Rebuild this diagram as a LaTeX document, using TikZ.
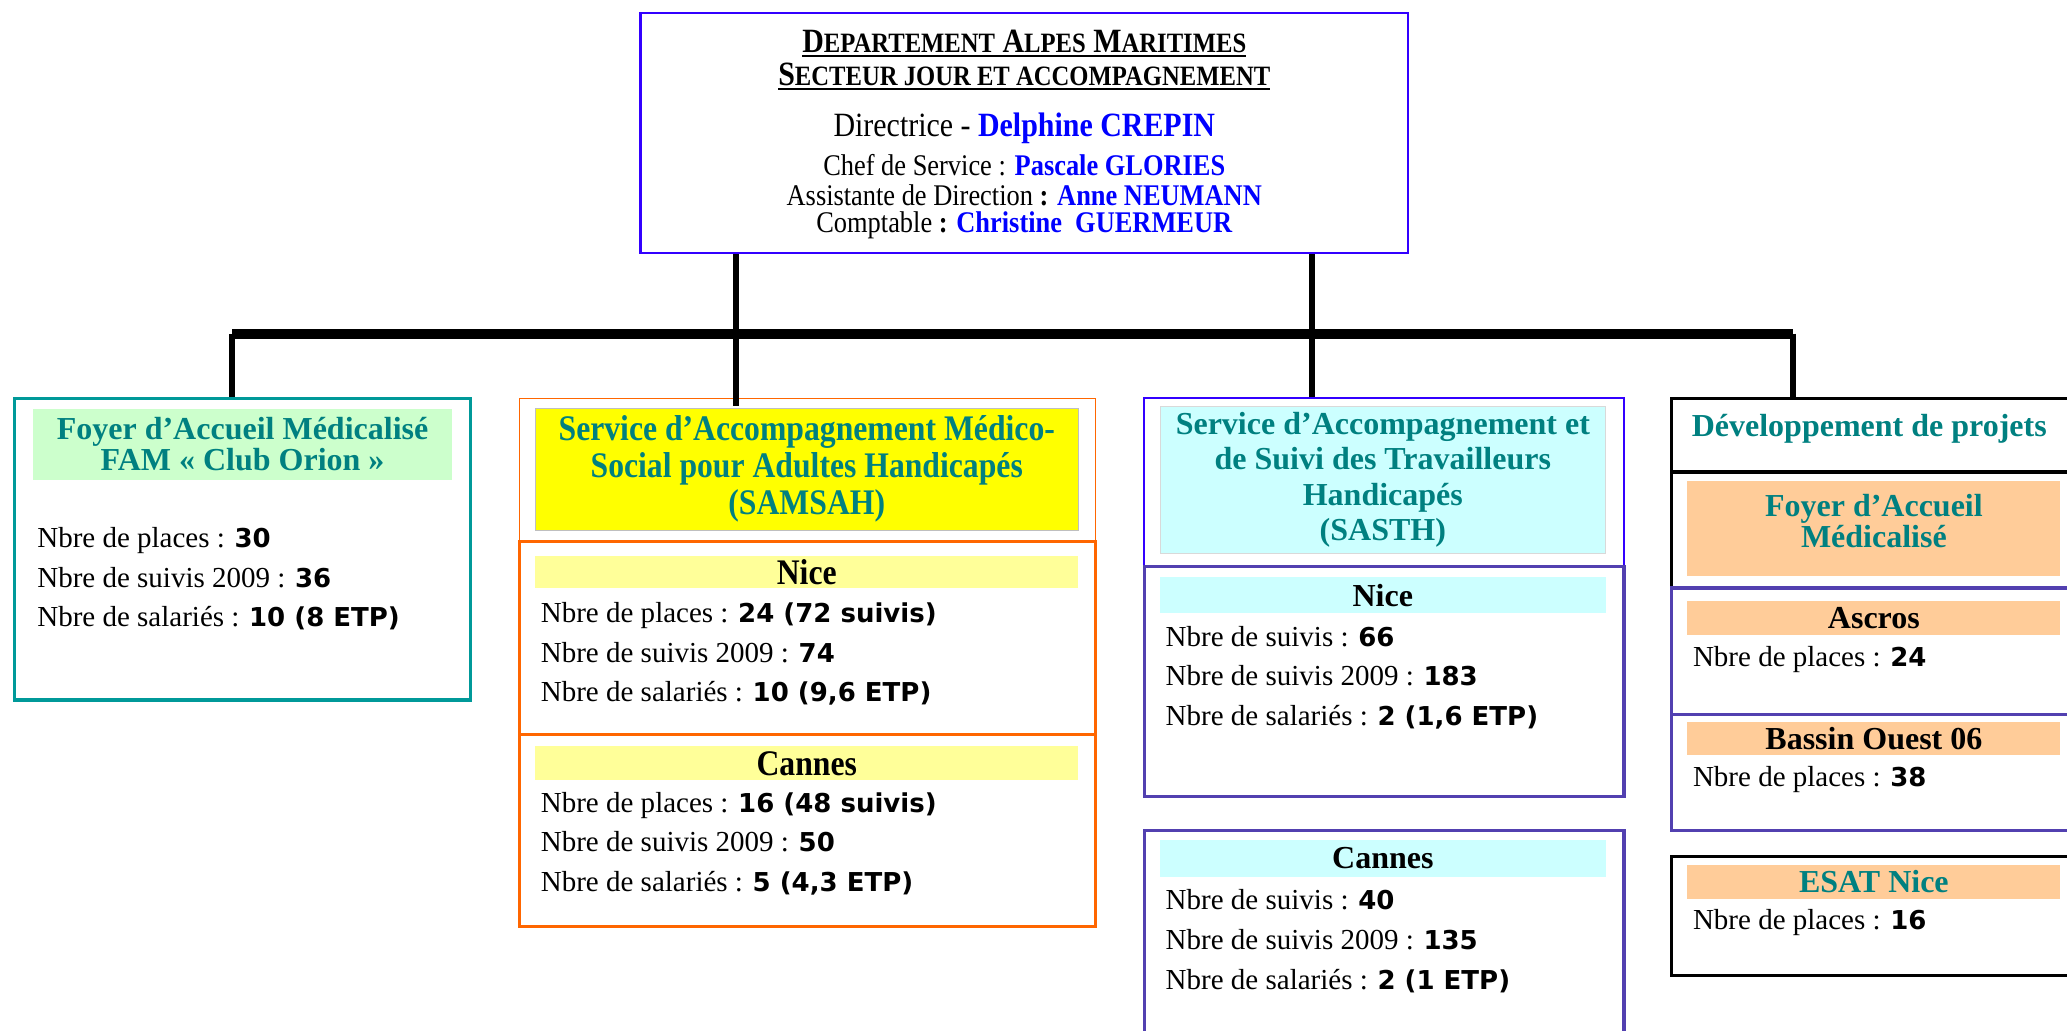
\documentclass[tikz,border=0pt]{standalone}
\usepackage{fontspec}
\setmainfont{Liberation Serif}
\newfontfamily\condfont[FakeStretch=0.88]{Liberation Serif}
\newfontfamily\valfont{DejaVu Sans}
\usetikzlibrary{positioning}

\newlength\pxu
\setlength\pxu{0.659pt}

\definecolor{dirblue}{RGB}{51,0,255}
\definecolor{namblue}{RGB}{0,0,255}
\definecolor{tealtxt}{RGB}{0,128,128}
\definecolor{tealline}{RGB}{0,153,153}
\definecolor{orgline}{RGB}{255,102,0}
\definecolor{purline}{RGB}{82,64,176}
\definecolor{greenfill}{RGB}{204,255,204}
\definecolor{yelfill}{RGB}{255,255,0}
\definecolor{paleyel}{RGB}{255,255,153}
\definecolor{cyanfill}{RGB}{204,255,255}
\definecolor{peach}{RGB}{255,204,153}

\newcommand\val[1]{{\valfont\bfseries\fontsize{13}{13}\selectfont #1}}
\newcommand\smc[2]{#1{\fontsize{14}{14}\selectfont #2}}
\newcommand\ulin[1]{\setbox0\hbox{#1}\rlap{\rule[-2.5pt]{\wd0}{1pt}}\box0}

\begin{document}
\begin{tikzpicture}[x=\pxu, y=-\pxu,
  sz/.style 2 args={minimum width=#1\pxu, minimum height=#2\pxu},
  frame/.style={draw, inner sep=0, line width=1.6pt},
  hd/.style={inner sep=0, align=center, text=tealtxt, font=\bfseries\fontsize{16}{15.5}\selectfont},
  sub/.style={inner sep=0, align=center, font=\bfseries\fontsize{16}{16}\selectfont},
  body/.style={inner sep=0, anchor=west, align=left, font=\fontsize{14.5}{19.8}\selectfont},
  top/.style={inner sep=0, font=\condfont\fontsize{15}{15}\selectfont},
  stem/.style={line width=3pt},
  bar/.style={line width=5pt}]
  \useasboundingbox (0,0) rectangle (1568,782);

  % direction
  \node[frame, draw=dirblue, line width=1.2pt, sz={582}{182}] (dir) at (777,101) {};
  \node[top, font=\condfont\bfseries\fontsize{17}{17}\selectfont] (dir1) at (777,33) {\ulin{\smc{D}{EPARTEMENT} \smc{A}{LPES} \smc{M}{ARITIMES}}};
  \node[top, font=\condfont\bfseries\fontsize{17}{17}\selectfont] (dir2) at (777,58) {\ulin{\smc{S}{ECTEUR JOUR ET ACCOMPAGNEMENT}}};
  \node[top, font=\condfont\fontsize{17}{17}\selectfont] (dir3) at (777,97) {Directrice - \textcolor{namblue}{\bfseries Delphine CREPIN}};
  \node[top] (dir4) at (777,125) {Chef de Service : \textcolor{namblue}{\bfseries Pascale GLORIES}};
  \node[top] (dir5) at (777,148) {Assistante de Direction \textbf{:} \textcolor{namblue}{\bfseries Anne NEUMANN}};
  \node[top] (dir6) at (777,171) {Comptable \textbf{:} \textcolor{namblue}{\bfseries Christine~ GUERMEUR}};

  % FAM
  \node[frame, draw=tealline, sz={346}{229}] (fam) at (184,416.5) {};
  \node[hd, fill=greenfill, sz={318}{54}] (famhd) at (184,337) {Foyer d’Accueil Médicalisé\\FAM « Club Orion »};
  \node[body] (famtxt) at (28,439) {Nbre de places : \val{30}\\Nbre de suivis 2009 : \val{36}\\Nbre de salariés : \val{10 (8 ETP)}};

  % SAMSAH
  \node[frame, draw=orgline, line width=0.6pt, sz={437}{109}] (samsah) at (612.5,356.5) {};
  \node[hd, fill=yelfill, draw=black!25, line width=0.4pt, sz={412}{92},
        font=\condfont\bfseries\fontsize{18}{18.5}\selectfont] (samhd) at (612,356) {Service d’Accompagnement Médico-\\Social pour Adultes Handicapés\\(SAMSAH)};
  \node[frame, draw=orgline, sz={437}{146}] (samnice) at (612.5,484) {};
  \node[sub, fill=paleyel, sz={412}{24}, font=\condfont\bfseries\fontsize{18}{18}\selectfont] (samnicehd) at (612,434) {Nice};
  \node[body] (samnicetxt) at (410,496) {Nbre de places : \val{24 (72 suivis)}\\Nbre de suivis 2009 : \val{74}\\Nbre de salariés : \val{10 (9,6 ETP)}};
  \node[frame, draw=orgline, sz={437}{146}] (samcannes) at (612.5,630) {};
  \node[sub, fill=paleyel, sz={412}{26}, font=\condfont\bfseries\fontsize{18}{18}\selectfont] (samcanneshd) at (612,579) {Cannes};
  \node[body] (samcannestxt) at (410,640) {Nbre de places : \val{16 (48 suivis)}\\Nbre de suivis 2009 : \val{50}\\Nbre de salariés : \val{5 (4,3 ETP)}};

  % SASTH
  \node[frame, draw=dirblue, line width=1.2pt, sz={364}{128}] (sasth) at (1050,366) {};
  \node[hd, fill=cyanfill, draw=black!15, line width=0.4pt, sz={338}{112},
        font=\bfseries\fontsize{16}{17.8}\selectfont] (sasthhd) at (1049,364) {Service d’Accompagnement et\\de Suivi des Travailleurs\\Handicapés\\(SASTH)};
  \node[frame, draw=purline, sz={364}{174}] (sasnice) at (1050,517) {};
  \node[sub, fill=cyanfill, sz={338}{27}] (sasnicehd) at (1049,451.5) {Nice};
  \node[body] (sasnicetxt) at (884,514) {Nbre de suivis : \val{66}\\Nbre de suivis 2009 : \val{183}\\Nbre de salariés : \val{2 (1,6 ETP)}};
  \node[frame, draw=purline, sz={364}{160}] (sascannes) at (1050,710) {};
  \node[sub, fill=cyanfill, sz={338}{28}] (sascanneshd) at (1049,651) {Cannes};
  \node[body] (sascannestxt) at (884,714) {Nbre de suivis : \val{40}\\Nbre de suivis 2009 : \val{135}\\Nbre de salariés : \val{2 (1 ETP)}};

  % developpement
  \node[frame, sz={307}{56}] (dev) at (1421.5,330) {};
  \node[hd] (devtxt) at (1418,325) {Développement de projets};
  \node[frame, sz={307}{88}] (devfam) at (1421.5,402) {};
  \node[fill=peach, inner sep=0, sz={283}{72}] (devfamhd) at (1421.5,401) {};
  \node[hd] (devfamtxt) at (1421.5,395) {Foyer d’Accueil\\Médicalisé};
  \node[frame, draw=purline, sz={307}{96}] (ascros) at (1421.5,494) {};
  \node[sub, fill=peach, sz={283}{26}] (ascroshd) at (1421.5,469) {Ascros};
  \node[body] (ascrostxt) at (1284,500) {Nbre de places : \val{24}};
  \node[frame, draw=purline, sz={307}{88}] (bassin) at (1421.5,586) {};
  \node[sub, fill=peach, sz={283}{25}] (bassinhd) at (1421.5,560.5) {Bassin Ouest 06};
  \node[body] (bassintxt) at (1284,591) {Nbre de places : \val{38}};
  \node[frame, sz={307}{90}] (esat) at (1421.5,695) {};
  \node[sub, fill=peach, text=tealtxt, sz={283}{26}] (esathd) at (1421.5,669) {ESAT Nice};
  \node[body] (esattxt) at (1284,700) {Nbre de places : \val{16}};

  % liaisons
  \coordinate (jl) at (176,253);
  \coordinate (jr) at (1360,253);
  \coordinate (j1) at (558,253);
  \coordinate (j2) at (995,253);
  \draw[bar] (jl) -- (jr);
  \draw[stem] (dir.south -| j1) -- ([yshift=-4pt]samsah.north -| j1);
  \draw[stem] (dir.south -| j2) -- (sasth.north -| j2);
  \draw[stem] (jl) -- (jl |- fam.north);
  \draw[stem] (jr) -- (jr |- dev.north);
\end{tikzpicture}
\end{document}
